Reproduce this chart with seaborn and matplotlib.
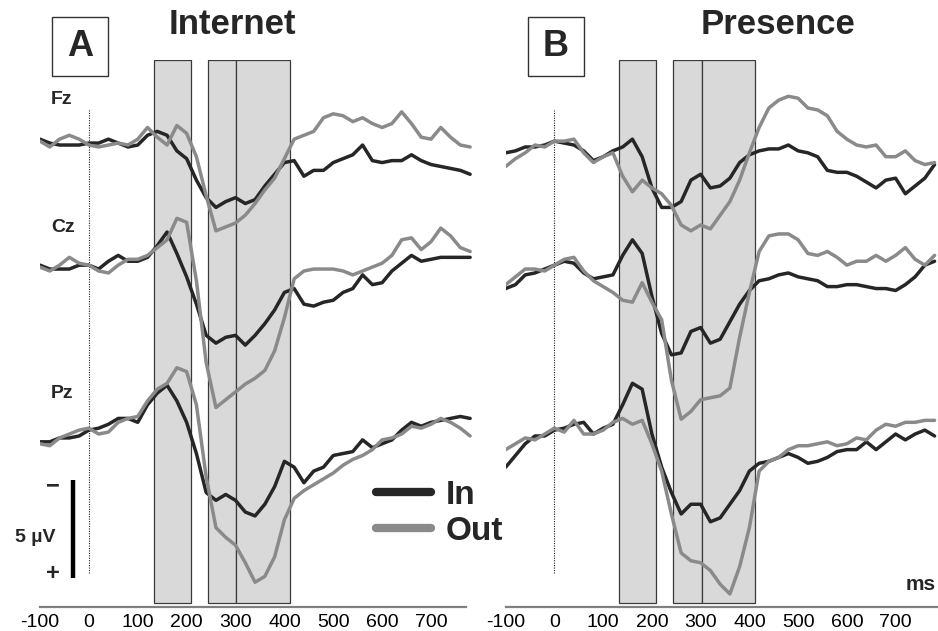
import matplotlib
matplotlib.use("Agg")
import pandas as pd
import matplotlib.pyplot as plt
from matplotlib.lines import Line2D
from matplotlib.patches import Rectangle
import seaborn as sns

# time axis (ms), one sample every 20 ms
times = list(range(-100, 781, 20))
channels = ["Fz", "Cz", "Pz"]
channel_offset = [0.0, 6.36, 14.72]        # stacking of the channels (µV)
windows = [(133, 208), (244, 302), (302, 412)]   # analysis windows (ms)
conditions = ["In", "Out"]
colors = {"In": "#262626", "Out": "#8a8a8a"}

# A - Internet  (µV, negative up)
a_fz_in = [-0.2, 0.0, 0.1, 0.1, 0.1, 0.0, 0.0, -0.2, 0.0, 0.2, 0.1, -0.4, -0.6, -0.4, 0.4, 0.8, 1.9, 2.8, 3.3, 3.0,
           2.8, 3.1, 2.9, 2.2, 1.6, 1.0, 0.9, 1.7, 1.4, 1.4, 1.0, 0.8, 0.6, 0.1, 0.9, 1.0, 0.9, 0.9, 0.6, 0.9,
           1.1, 1.2, 1.3, 1.4, 1.6]
a_fz_out = [-0.1, 0.2, -0.2, -0.4, -0.2, 0.1, 0.2, 0.1, 0.0, 0.1, -0.2, -0.8, -0.3, 0.1, -0.9, -0.5, 0.7, 2.7, 4.5, 4.3,
            4.1, 3.7, 3.1, 2.4, 1.8, 0.8, -0.2, -0.4, -0.6, -1.3, -1.5, -1.4, -1.1, -1.3, -1.0, -0.8, -1.0, -1.6, -1.0, -0.3,
            -0.2, -0.8, -0.3, 0.1, 0.2]
a_cz_in = [-0.1, 0.1, 0.1, 0.1, -0.1, -0.1, 0.1, -0.3, -0.6, -0.3, -0.3, -0.5, -1.1, -1.8, -0.7, 0.5, 1.9, 3.5, 3.9, 3.6,
           3.5, 4.0, 3.5, 2.9, 2.2, 1.3, 1.1, 1.9, 2.0, 1.8, 1.7, 1.3, 1.1, 0.4, 0.9, 0.8, 0.2, -0.2, -0.6, -0.3,
           -0.4, -0.5, -0.5, -0.5, -0.5]
a_cz_out = [0.0, 0.2, -0.1, -0.5, -0.2, -0.1, 0.2, 0.3, -0.1, -0.4, -0.4, -0.6, -1.0, -1.4, -2.5, -2.3, 0.7, 4.9, 7.2, 6.8,
            6.4, 6.0, 5.7, 5.3, 4.3, 2.6, 0.6, 0.2, 0.1, 0.1, 0.1, 0.2, 0.4, 0.2, 0.0, -0.2, -0.6, -1.4, -1.5, -0.9,
            -1.3, -2.0, -1.6, -1.0, -0.8]
a_pz_in = [0.6, 0.6, 0.4, 0.4, 0.3, 0.0, -0.1, -0.3, -0.6, -0.6, -0.4, -1.3, -1.9, -2.3, -1.5, -0.4, 1.2, 3.2, 3.6, 3.3,
           3.6, 4.2, 4.4, 3.8, 2.9, 1.6, 1.9, 2.7, 2.1, 1.9, 1.3, 1.2, 1.1, 0.5, 0.9, 0.7, 0.5, 0.0, -0.4, -0.2,
           -0.4, -0.5, -0.6, -0.7, -0.6]
a_pz_out = [0.7, 0.8, 0.4, 0.2, 0.0, -0.1, 0.2, 0.1, -0.4, -0.6, -0.7, -1.5, -2.1, -2.4, -3.2, -3.0, -1.3, 2.4, 5.0, 5.5,
            5.9, 6.8, 7.8, 7.5, 6.5, 4.6, 3.5, 3.1, 2.8, 2.5, 2.2, 1.8, 1.5, 1.3, 1.0, 0.5, 0.4, 0.2, -0.2, -0.1,
            -0.3, -0.6, -0.4, -0.1, 0.3]

# B - Presence
b_fz_in = [0.5, 0.4, 0.2, 0.2, 0.1, -0.1, 0.0, 0.1, 0.4, 0.9, 0.7, 0.4, 0.2, -0.2, 0.7, 2.3, 3.3, 3.3, 3.0, 1.9,
           1.6, 2.3, 2.2, 1.8, 1.0, 0.6, 0.4, 0.3, 0.3, 0.1, 0.4, 0.5, 0.7, 1.4, 1.5, 1.5, 1.7, 2.0, 2.3, 1.9,
           1.8, 2.6, 2.2, 1.8, 1.1]
b_fz_out = [1.2, 0.8, 0.5, 0.1, 0.2, -0.1, -0.1, -0.2, 0.5, 1.0, 0.7, 0.5, 1.7, 2.5, 1.9, 2.3, 2.6, 3.2, 4.2, 4.5,
            4.2, 4.4, 3.7, 3.0, 1.9, 0.5, -0.8, -1.8, -2.2, -2.4, -2.3, -1.8, -1.7, -1.4, -0.6, -0.2, 0.1, 0.2, 0.1, 0.7,
            0.7, 0.4, 0.9, 1.1, 1.0]
b_cz_in = [1.1, 0.9, 0.4, 0.3, 0.1, -0.1, -0.3, -0.2, 0.3, 0.6, 0.5, 0.4, -0.6, -1.4, -0.7, 1.5, 3.4, 4.5, 4.4, 3.3,
           3.1, 3.9, 3.7, 2.8, 1.9, 1.2, 0.7, 0.6, 0.4, 0.3, 0.5, 0.6, 0.7, 1.0, 1.0, 0.9, 0.9, 1.0, 1.1, 1.1,
           1.2, 0.9, 0.5, -0.1, -0.3]
b_cz_out = [0.9, 0.5, 0.1, 0.1, 0.2, -0.1, -0.4, -0.5, 0.2, 0.7, 1.0, 1.3, 1.7, 1.8, 0.8, 1.8, 2.7, 5.8, 7.8, 7.4,
            6.8, 6.7, 6.6, 6.2, 3.6, 1.3, -0.8, -1.6, -1.7, -1.7, -1.4, -0.7, -0.6, -0.8, -0.5, -0.1, -0.3, -0.3, -0.6, -0.3,
            -0.6, -1.0, -0.4, -0.1, -0.6]
b_pz_in = [1.9, 1.3, 0.7, 0.3, 0.3, 0.0, -0.1, -0.3, -0.4, 0.2, -0.1, -0.3, -1.3, -2.4, -2.1, 0.2, 1.9, 3.2, 4.3, 3.8,
           3.8, 4.7, 4.5, 3.8, 3.1, 2.1, 1.7, 1.6, 1.4, 1.2, 1.4, 1.7, 1.6, 1.4, 1.1, 1.0, 1.0, 0.6, 1.0, 0.6,
           0.2, 0.5, 0.2, 0.0, 0.3]
b_pz_out = [1.0, 0.7, 0.4, 0.5, 0.2, -0.1, 0.1, -0.5, 0.2, 0.2, 0.0, -0.4, -0.6, -0.3, -0.5, 0.7, 2.1, 4.3, 6.3, 6.7,
            6.8, 7.2, 7.9, 8.4, 7.0, 5.0, 2.1, 1.6, 1.4, 1.0, 0.8, 0.8, 0.7, 0.6, 0.8, 0.7, 0.4, 0.5, 0.0, -0.3,
            -0.2, -0.4, -0.4, -0.5, -0.5]

panels = {
    "A": {"Fz": (a_fz_in, a_fz_out), "Cz": (a_cz_in, a_cz_out), "Pz": (a_pz_in, a_pz_out)},
    "B": {"Fz": (b_fz_in, b_fz_out), "Cz": (b_cz_in, b_cz_out), "Pz": (b_pz_in, b_pz_out)},
}

rows = []
for panel, chans in panels.items():
    for ch, off in zip(channels, channel_offset):
        for cond, vals in zip(conditions, chans[ch]):
            for t, v in zip(times, vals):
                rows.append({"panel": panel, "channel": ch, "cond": cond, "time": t, "uV": v + off})
df = pd.DataFrame(rows)

sns.set_theme(style="white")
plt.rcParams["font.family"] = ["Liberation Sans", "DejaVu Sans"]

W, H = 938, 631
fig = plt.figure(figsize=(W / 100, H / 100), dpi=100)


def fx(x):
    return x / W


def fy(y):
    return 1 - y / H


ax_a = fig.add_axes([fx(40), fy(607), fx(435), 547 / H])
ax_b = fig.add_axes([fx(505.7), fy(607), fx(432.3), 547 / H])

for ax, panel, xmax in [(ax_a, "A", 790), (ax_b, "B", 787)]:
    for lo, hi in windows:
        ax.axvspan(lo, hi, ymin=0.007, ymax=1, facecolor="#d9d9d9", edgecolor="#3a3a3a", lw=0.9, zorder=0)
    ax.axvline(0, ymin=0.062, ymax=0.909, color="#222222", ls=(0, (1, 1.2)), lw=0.8, zorder=1)
    sns.lineplot(data=df[df.panel == panel], x="time", y="uV", hue="cond", units="channel",
                 estimator=None, hue_order=conditions, palette=colors, lw=2.5, legend=False,
                 sort=False, ax=ax, zorder=3, solid_joinstyle="round", solid_capstyle="round")
    ax.set_xlim(-100, xmax)
    ax.set_ylim(23.79, -4.26)
    ax.set_xticks(range(-100, 701, 100))
    ax.set_xticklabels([str(t) for t in range(-100, 701, 100)], fontsize=14)
    ax.set_yticks([])
    ax.set_xlabel("")
    ax.set_ylabel("")
    for s in ["left", "top", "right"]:
        ax.spines[s].set_visible(False)
    ax.spines["bottom"].set_color("#808080")
    ax.spines["bottom"].set_linewidth(1.6)
    ax.tick_params(axis="x", direction="out", length=4, width=1.3, color="#808080", pad=1, labelcolor="black")
    ax.patch.set_alpha(0)

ax_a.spines["bottom"].set_bounds(-100, 772)

# 5 µV scale bar
scale_x, scale_top, scale_len = -32, 17.3, 5
ax_a.plot([scale_x, scale_x], [scale_top, scale_top + scale_len], color="black", lw=3.2, solid_capstyle="butt")
fig.text(fx(53), fy(486), "\u2212", fontsize=17, fontweight="bold", ha="center", va="center")
fig.text(fx(53), fy(574), "+", fontsize=17, fontweight="bold", ha="center", va="center")
fig.text(fx(35), fy(537), "5 \u00b5V", fontsize=14, fontweight="bold", ha="center", va="center")

# channel labels
for ch, ypos in zip(channels, [100, 228, 393]):
    fig.text(fx(51), fy(ypos), ch, fontsize=14, fontweight="bold", ha="left", va="center")

# titles and panel letters
fig.text(fx(232), fy(24), "Internet", fontsize=25, fontweight="bold", ha="center", va="center")
fig.text(fx(778), fy(24), "Presence", fontsize=25, fontweight="bold", ha="center", va="center")
for letter, x0 in [("A", 52), ("B", 528)]:
    fig.add_artist(Rectangle((fx(x0), fy(76)), fx(56), 59 / H, transform=fig.transFigure,
                             fill=False, ec="#333333", lw=1.0))
    fig.text(fx(x0 + 28), fy(47), letter, fontsize=26, fontweight="bold", ha="center", va="center")

fig.text(fx(906), fy(585), "ms", fontsize=15, fontweight="bold", ha="left", va="center")

handles = [Line2D([], [], color=colors[c], lw=6) for c in conditions]
fig.legend(handles, conditions, loc="upper left", bbox_to_anchor=(fx(376), fy(480)), frameon=False,
           prop={"weight": "bold", "size": 24}, handlelength=1.65, handletextpad=0.45,
           labelspacing=0.15, borderpad=0, borderaxespad=0)

fig.savefig("out.png", dpi=100)
